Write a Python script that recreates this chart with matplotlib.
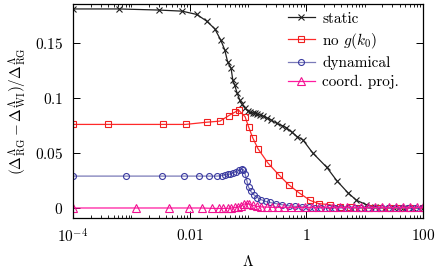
import numpy as np
import matplotlib
matplotlib.use("Agg")
import matplotlib.pyplot as plt
from matplotlib.ticker import FixedLocator, LogLocator, NullFormatter

plt.rcParams['mathtext.fontset'] = 'cm'
plt.rcParams['font.family'] = 'serif'
plt.rcParams['font.serif'] = ['cmr10', 'DejaVu Serif']
plt.rcParams['axes.formatter.use_mathtext'] = True

# static
lam_static = [1e-4, 6.2e-4, 2.95e-3, 7.4e-3, 0.0132, 0.0195, 0.0269, 0.0339,
              0.0398, 0.0447, 0.0513, 0.055, 0.0589, 0.0646, 0.0724, 0.0776,
              0.0891, 0.1, 0.107, 0.12, 0.132, 0.145, 0.158, 0.182, 0.209,
              0.251, 0.309, 0.38, 0.457, 0.562, 0.692, 0.871, 1.29, 2.24,
              3.31, 5.13, 7.24, 10.7, 15, 22, 32, 46, 68, 100]
val_static = [0.181, 0.181, 0.180, 0.179, 0.176, 0.170, 0.163, 0.153,
              0.144, 0.133, 0.127, 0.116, 0.112, 0.105, 0.098, 0.095,
              0.091, 0.088, 0.087, 0.0865, 0.086, 0.0855, 0.085, 0.0835, 0.082,
              0.080, 0.077, 0.075, 0.073, 0.069, 0.065, 0.062, 0.050, 0.037,
              0.025, 0.014, 0.007, 0.003, 0.001, 0.0, 0.0, 0.0, 0.0, 0.0]

# no g(k0)
lam_nog = [1e-4, 3.98e-4, 3.47e-3, 8.5e-3, 0.0195, 0.0331, 0.0468, 0.0589,
           0.0692, 0.0891, 0.102, 0.12, 0.148, 0.219, 0.339, 0.501, 0.741,
           1.15, 1.62, 2.51, 3.72, 5.5, 8, 12, 18, 27, 40, 60, 100]
val_nog = [0.076, 0.076, 0.076, 0.076, 0.078, 0.079, 0.084, 0.087,
           0.089, 0.083, 0.074, 0.064, 0.054, 0.041, 0.030, 0.021, 0.014,
           0.007, 0.004, 0.003, 0.001, 0.0005, 0.0, 0.0, 0.0, 0.0, 0.0, 0.0, 0.0]

# dynamical
lam_dyn = [1e-4, 8.1e-4, 3.3e-3, 7.9e-3, 0.0145, 0.0214, 0.0295, 0.0355,
           0.0398, 0.0447, 0.0501, 0.0562, 0.0631, 0.0708, 0.0776, 0.0832,
           0.0891, 0.0955, 0.102, 0.112, 0.126, 0.145, 0.170, 0.200, 0.240,
           0.300, 0.380, 0.50, 0.65, 0.85, 1.1, 1.4, 1.8, 2.4, 3.1, 4.0,
           5.2, 6.8, 8.8, 11.5, 15, 19.5, 25, 33, 43, 56, 73, 95]
val_dyn = [0.029, 0.029, 0.029, 0.029, 0.029, 0.029, 0.029, 0.0295,
           0.030, 0.0305, 0.031, 0.032, 0.033, 0.0345, 0.0352, 0.035,
           0.031, 0.025, 0.019, 0.015, 0.012, 0.0095, 0.0075, 0.006, 0.005,
           0.004, 0.003, 0.002, 0.0015, 0.001, 0.0005, 0.0, 0.0, 0.0, 0.0, 0.0,
           0.0, 0.0, 0.0, 0.0, 0.0, 0.0, 0.0, 0.0, 0.0, 0.0, 0.0, 0.0]

# coord. proj.
lam_proj = [1e-4, 1.2e-3, 4.4e-3, 0.0097, 0.0162, 0.024, 0.0316, 0.038,
            0.045, 0.052, 0.060, 0.068, 0.076, 0.085, 0.095, 0.106, 0.120,
            0.14, 0.17, 0.21, 0.26, 0.33, 0.42, 0.55, 0.72, 0.95, 1.25, 1.65,
            2.2, 2.9, 3.8, 5, 6.6, 8.7, 11.5, 15, 20, 26, 35, 46, 60, 79, 100]
val_proj = [0.0, 0.0, 0.0, 0.0, 0.0, -0.0003, -0.0004, -0.0004,
            -0.0003, 0.0, 0.0005, 0.001, 0.002, 0.0035, 0.004, 0.0035, 0.0025,
            0.0015, 0.001, 0.0008, 0.0006, 0.0005, 0.0005, 0.0005, 0.0005,
            0.0005, 0.0005, 0.0005, 0.0005, 0.0005, 0.0005, 0.0005, 0.0005,
            0.0005, 0.0005, 0.0005, 0.0005, 0.0005, 0.0005, 0.0005, 0.0005,
            0.0005, 0.0005]

fig = plt.figure(figsize=(4.36, 2.71), dpi=100)
ax = fig.add_axes([73 / 436, 1 - 218 / 271, 350 / 436, 214 / 271])

ax.plot(lam_static, val_static, color='#202020', lw=0.9, marker='x', ms=4,
        mew=0.8, label='static')
ax.plot(lam_nog, val_nog, color='#ff2a2a', lw=0.9, marker='s', ms=4.3, mew=0.8,
        mfc='none', mec='#ee2020', label=r'no $g(k_0)$')
ax.plot(lam_dyn, val_dyn, color='#7a7ab8', lw=0.9, marker='o', ms=4.3, mew=0.8,
        mfc='none', mec='#3a3aa0', label='dynamical')
ax.plot(lam_proj, val_proj, color='#ff1aa0', lw=0.9, marker='^', ms=5.2,
        mew=0.8, mfc='none', mec='#f01090', label='coord. proj.')

ax.set_xscale('log')
ax.set_xlim(1e-4, 100)
ax.set_ylim(-0.0091, 0.1855)
ax.xaxis.set_major_locator(FixedLocator([1e-4, 1e-2, 1, 100]))
ax.set_xticklabels([r'$10^{-4}$', r'$0.01$', r'$1$', r'$100$'])
ax.xaxis.set_minor_locator(LogLocator(base=10, subs=np.arange(1, 10), numticks=30))
ax.xaxis.set_minor_formatter(NullFormatter())
ax.set_yticks([0, 0.05, 0.1, 0.15])
ax.set_yticklabels([r'$0$', r'$0.05$', r'$0.1$', r'$0.15$'])
ax.tick_params(which='both', direction='in', top=True, right=True, labelsize=11)
ax.tick_params(which='major', length=5, width=0.7, pad=7)
ax.tick_params(which='minor', length=2.5, width=0.6)
for s in ax.spines.values():
    s.set_linewidth(0.9)

ax.set_xlabel(r'$\Lambda$', fontsize=11, labelpad=6)
ax.set_ylabel(r'$(\Delta^{\Lambda}_{\rm RG}-\Delta^{\Lambda}_{\rm WI})/\Delta^{\Lambda}_{\rm RG}$',
              fontsize=11, labelpad=4)

ax.legend(loc='upper left', bbox_to_anchor=(288 / 436, 1 - 12 / 271),
          bbox_transform=fig.transFigure, frameon=False, fontsize=11,
          borderpad=0, borderaxespad=0, handlelength=1.75, handletextpad=0.5,
          labelspacing=0.33)

fig.savefig('out.png', dpi=100)
